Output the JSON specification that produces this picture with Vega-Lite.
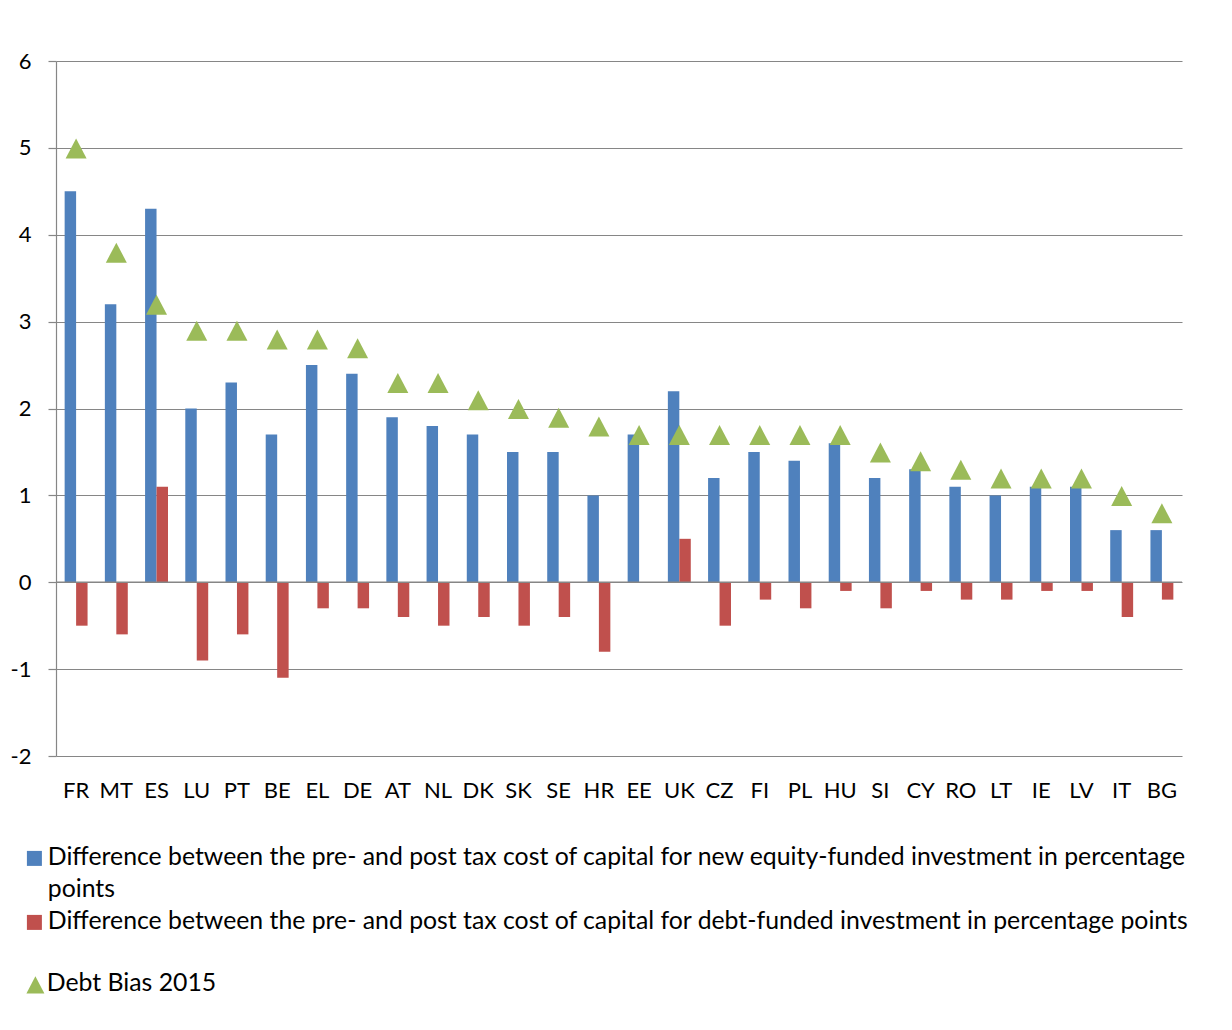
{
  "$schema": "https://vega.github.io/schema/vega-lite/v6.json",
  "width": 1126,
  "height": 695,
  "autosize": {"type": "none"},
  "padding": {"left": 56, "top": 61, "right": 50, "bottom": 274},
  "background": "white",
  "config": {
    "font": "Lato",
    "view": {"stroke": null},
    "axis": {"labelFont": "Lato", "labelFontSize": 22, "labelColor": "#000000", "title": null},
    "legend": {
      "labelFont": "Lato",
      "labelFontSize": 24.8,
      "labelColor": "#000000",
      "labelLimit": 1300,
      "padding": 0,
      "symbolStrokeWidth": 0,
      "rowPadding": 0
    },
    "style": {"guide-label": {"lineHeight": 31.5}}
  },
  "data": {
    "values": [
      {"country": "FR", "equity": 4.5, "debt": -0.5, "bias": 5.0},
      {"country": "MT", "equity": 3.2, "debt": -0.6, "bias": 3.8},
      {"country": "ES", "equity": 4.3, "debt": 1.1, "bias": 3.2},
      {"country": "LU", "equity": 2.0, "debt": -0.9, "bias": 2.9},
      {"country": "PT", "equity": 2.3, "debt": -0.6, "bias": 2.9},
      {"country": "BE", "equity": 1.7, "debt": -1.1, "bias": 2.8},
      {"country": "EL", "equity": 2.5, "debt": -0.3, "bias": 2.8},
      {"country": "DE", "equity": 2.4, "debt": -0.3, "bias": 2.7},
      {"country": "AT", "equity": 1.9, "debt": -0.4, "bias": 2.3},
      {"country": "NL", "equity": 1.8, "debt": -0.5, "bias": 2.3},
      {"country": "DK", "equity": 1.7, "debt": -0.4, "bias": 2.1},
      {"country": "SK", "equity": 1.5, "debt": -0.5, "bias": 2.0},
      {"country": "SE", "equity": 1.5, "debt": -0.4, "bias": 1.9},
      {"country": "HR", "equity": 1.0, "debt": -0.8, "bias": 1.8},
      {"country": "EE", "equity": 1.7, "debt": 0.0, "bias": 1.7},
      {"country": "UK", "equity": 2.2, "debt": 0.5, "bias": 1.7},
      {"country": "CZ", "equity": 1.2, "debt": -0.5, "bias": 1.7},
      {"country": "FI", "equity": 1.5, "debt": -0.2, "bias": 1.7},
      {"country": "PL", "equity": 1.4, "debt": -0.3, "bias": 1.7},
      {"country": "HU", "equity": 1.6, "debt": -0.1, "bias": 1.7},
      {"country": "SI", "equity": 1.2, "debt": -0.3, "bias": 1.5},
      {"country": "CY", "equity": 1.3, "debt": -0.1, "bias": 1.4},
      {"country": "RO", "equity": 1.1, "debt": -0.2, "bias": 1.3},
      {"country": "LT", "equity": 1.0, "debt": -0.2, "bias": 1.2},
      {"country": "IE", "equity": 1.1, "debt": -0.1, "bias": 1.2},
      {"country": "LV", "equity": 1.1, "debt": -0.1, "bias": 1.2},
      {"country": "IT", "equity": 0.6, "debt": -0.4, "bias": 1.0},
      {"country": "BG", "equity": 0.6, "debt": -0.2, "bias": 0.8}
    ]
  },
  "encoding": {
    "x": {
      "field": "country",
      "type": "nominal",
      "sort": null,
      "scale": {"paddingInner": 0.43, "paddingOuter": 0.215},
      "axis": {
        "labelAngle": 0,
        "domain": false,
        "ticks": false,
        "tickSize": 0,
        "grid": false,
        "labelPadding": 24
      }
    }
  },
  "layer": [
    {
      "transform": [{"fold": ["equity", "debt"], "as": ["series", "value"]}],
      "mark": {"type": "bar"},
      "encoding": {
        "xOffset": {
          "field": "series",
          "sort": ["equity", "debt"],
          "scale": {"paddingInner": 0, "paddingOuter": 0}
        },
        "y": {
          "field": "value",
          "type": "quantitative",
          "scale": {"domain": [-2, 6], "nice": false, "zero": false},
          "axis": {
            "values": [-2, -1, 0, 1, 2, 3, 4, 5, 6],
            "labelExpr": "'' + datum.value",
            "grid": true,
            "gridColor": "#868686",
            "gridWidth": 1.2,
            "domain": true,
            "domainColor": "#868686",
            "domainWidth": 1.2,
            "ticks": true,
            "tickColor": "#868686",
            "tickWidth": 1.2,
            "tickSize": 8,
            "labelPadding": 17
          }
        },
        "color": {
          "field": "series",
          "type": "nominal",
          "scale": {"domain": ["equity", "debt"], "range": ["#4F81BD", "#C0504D"]},
          "legend": {
            "title": null,
            "orient": "none",
            "legendX": -34,
            "legendY": 785,
            "symbolType": "square",
            "symbolSize": 225,
            "labelOffset": 1,
            "rowPadding": 7,
            "labelBaseline": "middle",
            "labelExpr": "datum.value == 'equity' ? ['Difference between the pre- and post tax cost of capital for new equity-funded investment in percentage', 'points'] : 'Difference between the pre- and post tax cost of capital for debt-funded investment in percentage points'"
          }
        }
      }
    },
    {
      "data": {"values": [{}]},
      "mark": {"type": "rule", "color": "#868686", "strokeWidth": 1.6},
      "encoding": {"y": {"datum": 0}, "x": null}
    },
    {
      "mark": {"type": "point", "filled": true, "color": "#9BBB59", "opacity": 1, "size": 441, "strokeWidth": 0},
      "encoding": {
        "y": {"field": "bias", "type": "quantitative"},
        "shape": {
          "datum": "Debt Bias 2015",
          "scale": {"range": ["M0,-0.9L-1,1L1,1Z"]},
          "legend": {
            "title": null,
            "orient": "none",
            "legendX": -33,
            "legendY": 911,
            "symbolSize": 324,
            "symbolFillColor": "#9BBB59",
            "labelOffset": -1,
            "labelBaseline": "middle"
          }
        }
      }
    }
  ]
}
